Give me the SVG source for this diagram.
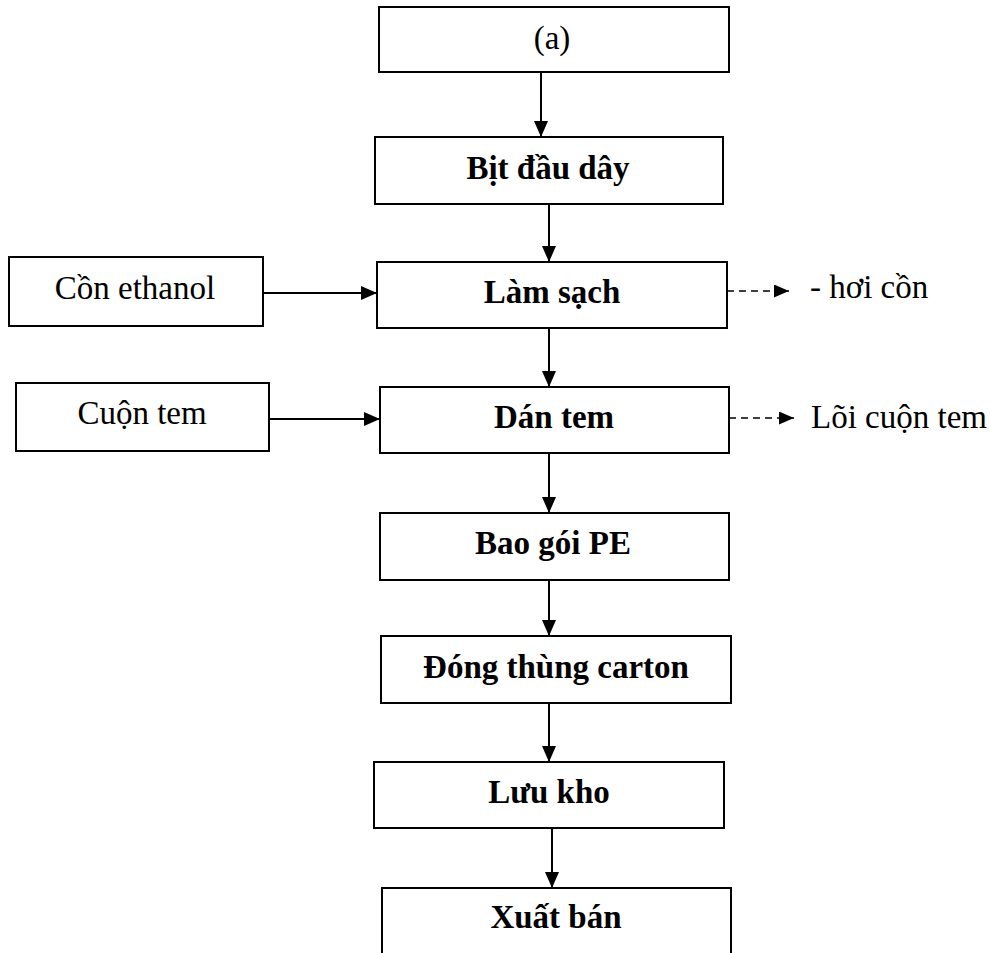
<svg xmlns="http://www.w3.org/2000/svg" width="990" height="953" viewBox="0 0 990 953">
  <style>
    .box { fill: #ffffff; stroke: #000000; stroke-width: 2; }
    .lbl { font-family: "Liberation Serif", "Times New Roman", serif; font-size: 33px; fill: #000000; }
    .b { font-weight: bold; text-anchor: middle; }
    .r { font-weight: normal; }
    .mid { text-anchor: middle; }
    .flow { stroke: #000000; stroke-width: 2; fill: none; marker-end: url(#head); }
    .waste { stroke: #000000; stroke-width: 1.5; stroke-dasharray: 7 5; fill: none; marker-end: url(#head-s); }
  </style>
  <defs>
    <marker id="head" markerUnits="userSpaceOnUse" markerWidth="16" markerHeight="14" refX="16" refY="7" orient="auto">
      <path d="M0,0 L16,7 L0,14 z" fill="#000000"/>
    </marker>
    <marker id="head-s" markerUnits="userSpaceOnUse" markerWidth="15" markerHeight="13" refX="15" refY="6.5" orient="auto">
      <path d="M0,0 L15,6.5 L0,13 z" fill="#000000"/>
    </marker>
  </defs>
  <rect width="990" height="953" fill="#ffffff"/>

  <!-- connectors -->
  <g id="connectors">
    <line class="flow" x1="541" y1="72" x2="541" y2="137"/>
    <line class="flow" x1="549" y1="204" x2="549" y2="262"/>
    <line class="flow" x1="549" y1="328" x2="549" y2="387"/>
    <line class="flow" x1="549" y1="453" x2="549" y2="513"/>
    <line class="flow" x1="549" y1="580" x2="549" y2="636"/>
    <line class="flow" x1="549" y1="703" x2="549" y2="762"/>
    <line class="flow" x1="552" y1="828" x2="552" y2="888"/>
    <line class="flow" x1="263" y1="293" x2="377" y2="293"/>
    <line class="flow" x1="269" y1="419" x2="380" y2="419"/>
    <line class="waste" x1="727" y1="291" x2="789" y2="291"/>
    <line class="waste" x1="729" y1="418" x2="794" y2="418"/>
  </g>

  <!-- process steps -->
  <g id="node-a">
    <rect class="box" x="379" y="7" width="350" height="65"/>
    <text class="lbl r mid" x="552" y="49">(a)</text>
  </g>
  <g id="node-bit-dau-day">
    <rect class="box" x="375" y="137" width="348" height="67"/>
    <text class="lbl b" x="548" y="179">Bịt đầu dây</text>
  </g>
  <g id="node-lam-sach">
    <rect class="box" x="377" y="262" width="350" height="66"/>
    <text class="lbl b" x="552" y="303">Làm sạch</text>
  </g>
  <g id="node-dan-tem">
    <rect class="box" x="380" y="387" width="349" height="66"/>
    <text class="lbl b" x="554" y="428">Dán tem</text>
  </g>
  <g id="node-bao-goi">
    <rect class="box" x="380" y="513" width="349" height="67"/>
    <text class="lbl b" x="553" y="554">Bao gói PE</text>
  </g>
  <g id="node-dong-thung">
    <rect class="box" x="381" y="636" width="350" height="67"/>
    <text class="lbl b" x="556" y="678">Đóng thùng carton</text>
  </g>
  <g id="node-luu-kho">
    <rect class="box" x="374" y="762" width="350" height="66"/>
    <text class="lbl b" x="549" y="803">Lưu kho</text>
  </g>
  <g id="node-xuat-ban">
    <path d="M382,956 V888 H731 V956" fill="#ffffff" stroke="#000000" stroke-width="2"/>
    <text class="lbl b" x="556" y="928">Xuất bán</text>
  </g>

  <!-- inputs -->
  <g id="node-con-ethanol">
    <rect class="box" x="9" y="257" width="254" height="69"/>
    <text class="lbl r mid" x="135" y="299">Cồn ethanol</text>
  </g>
  <g id="node-cuon-tem">
    <rect class="box" x="16" y="383" width="253" height="68"/>
    <text class="lbl r mid" x="142" y="424">Cuộn tem</text>
  </g>

  <!-- outputs -->
  <g id="out-hoi-con">
    <text class="lbl r" x="810" y="298">- hơi cồn</text>
  </g>
  <g id="out-loi-cuon-tem">
    <text class="lbl r" x="811" y="428">Lõi cuộn tem</text>
  </g>
</svg>
